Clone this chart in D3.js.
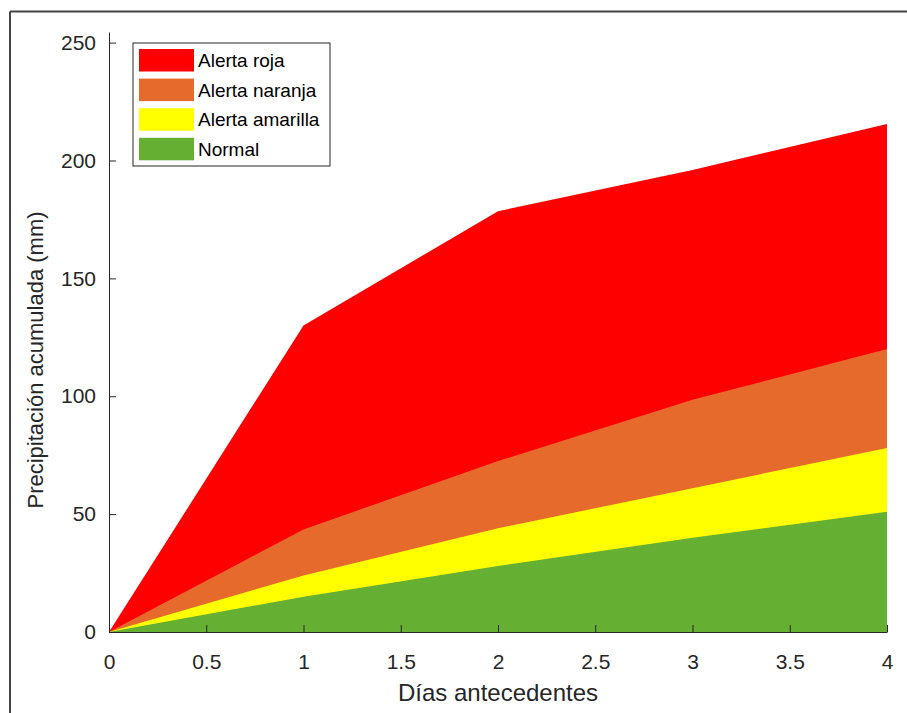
<!DOCTYPE html>
<html>
<head>
<meta charset="utf-8">
<script src="https://cdn.jsdelivr.net/npm/d3@7"></script>
<style>
  html, body { margin: 0; padding: 0; background: #fff; }
  svg { display: block; font-family: "Liberation Sans", Arial, Helvetica, sans-serif; }
</style>
</head>
<body>
<svg id="chart" width="907" height="713"></svg>
<script>
// ---- Data ----
const days = [0, 1, 2, 3, 4];
const normal = [0, 15, 28, 40, 51];
const amarilla = [0, 24, 44, 61, 78];
const naranja = [0, 43.5, 72.5, 98.5, 120];
const roja = [0, 130, 178.5, 196, 215.5];
const seriesNames = ["Alerta roja", "Alerta naranja", "Alerta amarilla", "Normal"];
const seriesColors = ["#ff0000", "#e66a2c", "#ffff00", "#65b032"];
const xTicks = [0, 0.5, 1, 1.5, 2, 2.5, 3, 3.5, 4];
const yTicks = [0, 50, 100, 150, 200, 250];
const xLabel = "Días antecedentes";
const yLabel = "Precipitación acumulada (mm)";

const seriesValues = [roja, naranja, amarilla, normal];

const svg = d3.select("#chart");
const axisColor = "#262626";

// outer frame (figure border)
svg.append("line").attr("x1", 10).attr("y1", 11.5).attr("x2", 907).attr("y2", 11.5)
  .attr("stroke", "#444").attr("stroke-width", 2);
svg.append("line").attr("x1", 10).attr("y1", 11.5).attr("x2", 10).attr("y2", 713)
  .attr("stroke", "#444").attr("stroke-width", 2);

const x = d3.scaleLinear().domain([0, 4]).range([109, 887]);
const y = d3.scaleLinear().domain([0, 254.5]).range([632, 32]);

// areas (drawn largest first)
const area = d3.area()
  .x((d, i) => x(days[i]))
  .y0(() => y(0))
  .y1(d => y(d));

seriesValues.forEach((vals, k) => {
  svg.append("path")
    .datum(vals)
    .attr("d", area)
    .attr("fill", seriesColors[k])
    .attr("stroke", "none");
});

// axes
const xAxis = d3.axisBottom(x).tickValues(xTicks).tickSizeInner(-7).tickSizeOuter(0).tickPadding(22)
  .tickFormat(d3.format("~g"));
const gx = svg.append("g").attr("transform", `translate(0,${y(0)})`).call(xAxis);

const yAxis = d3.axisLeft(y).tickValues(yTicks).tickSizeInner(-7).tickSizeOuter(0).tickPadding(13)
  .tickFormat(d3.format("~g"));
const gy = svg.append("g").attr("transform", `translate(${x(0)},0)`).call(yAxis);

[gx, gy].forEach(g => {
  g.select(".domain").attr("stroke", axisColor).attr("stroke-width", 1);
  g.selectAll(".tick line").attr("stroke", axisColor).attr("stroke-width", 1);
  g.selectAll(".tick text").attr("fill", axisColor)
    .style("font-size", "21px").style("font-family", '"Liberation Sans", Arial, sans-serif');
});

// axis titles
svg.append("text")
  .attr("x", (x(0) + x(4)) / 2).attr("y", 701)
  .attr("text-anchor", "middle")
  .attr("fill", axisColor)
  .style("font-size", "24px")
  .text(xLabel);

svg.append("text")
  .attr("transform", `translate(43,360) rotate(-90)`)
  .attr("text-anchor", "middle")
  .attr("fill", axisColor)
  .style("font-size", "22px")
  .text(yLabel);

// legend
const lg = svg.append("g");
lg.append("rect").attr("x", 133).attr("y", 43).attr("width", 197).attr("height", 123)
  .attr("fill", "#fff").attr("stroke", axisColor).attr("stroke-width", 1);
seriesNames.forEach((name, k) => {
  const ry = 49 + k * 29.6;
  lg.append("rect").attr("x", 139).attr("y", ry).attr("width", 55).attr("height", 22.5)
    .attr("fill", seriesColors[k]);
  lg.append("text").attr("x", 198).attr("y", ry + 18)
    .attr("fill", "#000")
    .style("font-size", "19px")
    .text(name);
});
</script>
</body>
</html>
